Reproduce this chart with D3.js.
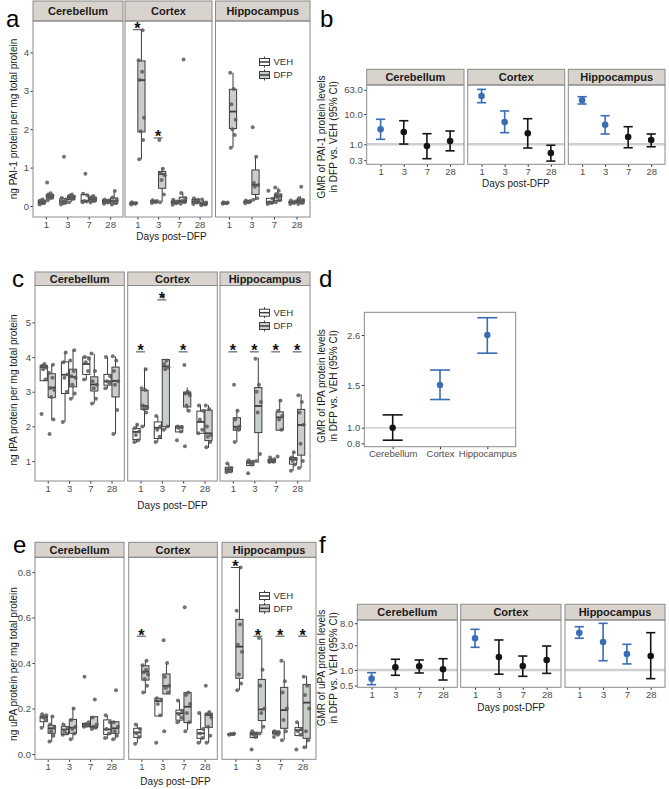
<!DOCTYPE html>
<html>
<head>
<meta charset="utf-8">
<script src="https://cdn.jsdelivr.net/npm/d3@7"></script>
<style>
  body { margin: 0; background: #fff; }
  svg text { font-family: "Liberation Sans", Arial, sans-serif; }
</style>
</head>
<body>
<svg id="fig" width="669" height="789"></svg>
<script>
const regions = ["Cerebellum", "Cortex", "Hippocampus"];
const days = ["1", "3", "7", "28"];
const groups = ["VEH", "DFP"];

// boxes: region, day, group, [whisker lo, q1, median, q3, whisker hi], animals
const paiBoxes = [
  ["Cerebellum", "1", "VEH", [0.03, 0.06, 0.10, 0.15, 0.18], [0.04, 0.07, 0.09, 0.11, 0.14, 0.17]],
  ["Cerebellum", "1", "DFP", [0.15, 0.20, 0.25, 0.30, 0.34], [0.15, 0.21, 0.24, 0.27, 0.30, 0.33, 0.61]],
  ["Cerebellum", "3", "VEH", [0.03, 0.07, 0.12, 0.19, 0.22], [0.04, 0.08, 0.12, 0.17, 0.21, 1.28]],
  ["Cerebellum", "3", "DFP", [0.10, 0.17, 0.22, 0.27, 0.30], [0.10, 0.18, 0.21, 0.24, 0.27, 0.30]],
  ["Cerebellum", "7", "VEH", [0.10, 0.12, 0.13, 0.30, 0.32], [0.10, 0.12, 0.13, 0.28, 0.32, 0.84]],
  ["Cerebellum", "7", "DFP", [0.09, 0.12, 0.18, 0.23, 0.27], [0.09, 0.13, 0.17, 0.19, 0.23, 0.26]],
  ["Cerebellum", "28", "VEH", [0.06, 0.08, 0.13, 0.16, 0.18], [0.06, 0.09, 0.12, 0.14, 0.17]],
  ["Cerebellum", "28", "DFP", [0.04, 0.06, 0.13, 0.21, 0.39], [0.04, 0.07, 0.12, 0.15, 0.22, 0.39]],
  ["Cortex", "1", "VEH", [0.04, 0.06, 0.07, 0.09, 0.10], [0.04, 0.06, 0.07, 0.08, 0.10]],
  ["Cortex", "1", "DFP", [1.22, 1.93, 3.28, 3.78, 4.58], [1.22, 1.72, 1.95, 2.30, 3.28, 3.50, 3.80, 4.58]],
  ["Cortex", "3", "VEH", [0.08, 0.10, 0.12, 0.13, 0.15], [0.08, 0.10, 0.12, 0.13, 0.15]],
  ["Cortex", "3", "DFP", [0.10, 0.46, 0.83, 0.90, 0.99], [0.10, 0.30, 0.68, 0.80, 0.85, 0.97, 1.72]],
  ["Cortex", "7", "VEH", [0.03, 0.07, 0.10, 0.13, 0.17], [0.03, 0.07, 0.10, 0.12, 0.16]],
  ["Cortex", "7", "DFP", [0.06, 0.10, 0.13, 0.23, 0.35], [0.06, 0.10, 0.13, 0.20, 0.34, 3.82]],
  ["Cortex", "28", "VEH", [0.05, 0.08, 0.12, 0.17, 0.21], [0.05, 0.09, 0.12, 0.16, 0.20]],
  ["Cortex", "28", "DFP", [0.02, 0.03, 0.06, 0.10, 0.17], [0.02, 0.04, 0.06, 0.09, 0.17]],
  ["Hippocampus", "1", "VEH", [0.06, 0.07, 0.08, 0.09, 0.10], [0.06, 0.07, 0.08, 0.09, 0.10]],
  ["Hippocampus", "1", "DFP", [1.52, 2.02, 2.46, 3.04, 3.47], [1.52, 1.85, 2.00, 2.25, 2.65, 3.05, 3.47]],
  ["Hippocampus", "3", "VEH", [0.07, 0.09, 0.11, 0.13, 0.14], [0.07, 0.10, 0.11, 0.13, 0.14]],
  ["Hippocampus", "3", "DFP", [0.16, 0.30, 0.55, 0.94, 1.28], [0.16, 0.20, 0.50, 0.55, 0.60, 1.28, 2.05]],
  ["Hippocampus", "7", "VEH", [0.05, 0.07, 0.10, 0.20, 0.21], [0.05, 0.08, 0.10, 0.19, 0.40]],
  ["Hippocampus", "7", "DFP", [0.10, 0.14, 0.25, 0.31, 0.48], [0.10, 0.15, 0.22, 0.27, 0.31, 0.40, 0.48]],
  ["Hippocampus", "28", "VEH", [0.05, 0.08, 0.10, 0.12, 0.14], [0.05, 0.08, 0.10, 0.12, 0.14]],
  ["Hippocampus", "28", "DFP", [0.05, 0.07, 0.13, 0.18, 0.25], [0.05, 0.08, 0.12, 0.15, 0.20, 0.50]]
];
const paiStars = [["Cortex", "1", 4.71], ["Cortex", "3", 1.89]];
const paiTicks = [0, 1, 2, 3, 4];

const tpaBoxes = [
  ["Cerebellum", "1", "VEH", [3.30, 3.32, 3.71, 3.76, 3.81], [2.36, 3.35, 3.65, 3.70, 3.75, 3.80]],
  ["Cerebellum", "1", "DFP", [2.18, 2.83, 3.12, 3.52, 3.78], [1.78, 2.20, 2.85, 3.05, 3.10, 3.40, 3.55, 3.78]],
  ["Cerebellum", "3", "VEH", [2.13, 2.95, 3.49, 3.86, 4.13], [2.13, 3.00, 3.40, 3.50, 3.85, 4.13]],
  ["Cerebellum", "3", "DFP", [2.80, 3.14, 3.43, 3.65, 4.21], [2.80, 2.95, 3.20, 3.40, 3.45, 3.60, 3.90, 4.20]],
  ["Cerebellum", "7", "VEH", [3.33, 3.50, 3.80, 4.00, 4.00], [3.35, 3.60, 3.85, 3.95, 4.00]],
  ["Cerebellum", "7", "DFP", [2.66, 3.02, 3.21, 3.43, 4.10], [2.66, 2.80, 3.10, 3.20, 3.30, 3.60, 4.10]],
  ["Cerebellum", "28", "VEH", [3.09, 3.19, 3.30, 3.50, 4.00], [3.10, 3.25, 3.30, 3.45, 4.00]],
  ["Cerebellum", "28", "DFP", [1.78, 2.85, 3.31, 3.71, 4.02], [1.78, 2.47, 3.20, 3.30, 3.60, 3.90, 4.02]],
  ["Cortex", "1", "VEH", [1.53, 1.62, 1.84, 1.94, 2.08], [1.55, 1.60, 1.75, 1.85, 1.95, 2.05]],
  ["Cortex", "1", "DFP", [1.99, 2.49, 2.59, 3.04, 3.69], [2.00, 2.40, 2.50, 2.55, 2.60, 3.05, 3.10, 3.65]],
  ["Cortex", "3", "VEH", [1.54, 1.65, 1.96, 2.13, 2.30], [1.55, 1.70, 1.90, 2.00, 2.30]],
  ["Cortex", "3", "DFP", [1.89, 1.99, 3.73, 3.93, 3.93], [1.90, 2.00, 3.65, 3.70, 3.80, 3.90, 5.75]],
  ["Cortex", "7", "VEH", [1.84, 1.84, 1.97, 2.01, 2.01], [1.60, 1.85, 1.95, 1.98, 2.00]],
  ["Cortex", "7", "DFP", [2.42, 2.56, 2.95, 2.99, 3.12], [1.43, 2.45, 2.60, 2.90, 2.95, 3.00, 3.77]],
  ["Cortex", "28", "VEH", [1.80, 1.80, 2.13, 2.44, 2.63], [1.80, 1.90, 2.20, 2.45, 2.60]],
  ["Cortex", "28", "DFP", [1.38, 1.59, 1.80, 2.47, 2.61], [1.40, 1.55, 1.70, 1.75, 2.00, 2.50, 2.60]],
  ["Hippocampus", "1", "VEH", [0.66, 0.69, 0.76, 0.82, 0.93], [0.68, 0.70, 0.75, 0.80, 0.93]],
  ["Hippocampus", "1", "DFP", [1.54, 1.89, 1.99, 2.25, 2.49], [1.55, 1.90, 1.95, 2.00, 2.20, 2.45, 3.20]],
  ["Hippocampus", "3", "VEH", [0.87, 0.87, 0.95, 1.00, 1.03], [0.65, 0.90, 0.95, 0.98, 1.02]],
  ["Hippocampus", "3", "DFP", [0.95, 1.82, 2.59, 3.12, 3.98], [1.00, 1.20, 2.40, 2.70, 3.00, 3.20, 3.95]],
  ["Hippocampus", "7", "VEH", [0.96, 0.96, 1.00, 1.05, 1.10], [0.97, 0.98, 1.00, 1.05, 1.10]],
  ["Hippocampus", "7", "DFP", [1.89, 1.89, 2.26, 2.42, 2.76], [1.13, 1.90, 2.20, 2.30, 2.45, 2.75]],
  ["Hippocampus", "28", "VEH", [0.72, 0.91, 1.05, 1.10, 1.27], [0.72, 0.90, 1.00, 1.05, 1.10, 1.25]],
  ["Hippocampus", "28", "DFP", [0.79, 1.17, 2.04, 2.49, 2.93], [0.80, 1.00, 1.50, 2.05, 2.40, 2.70, 2.90]]
];
const tpaStars = [["Cortex", "1", 4.28], ["Cortex", "3", 5.78], ["Cortex", "7", 4.28],
  ["Hippocampus", "1", 4.28], ["Hippocampus", "3", 4.28], ["Hippocampus", "7", 4.28], ["Hippocampus", "28", 4.28]];
const tpaTicks = [1, 2, 3, 4, 5];

const upaBoxes = [
  ["Cerebellum", "1", "VEH", [0.116, 0.142, 0.161, 0.167, 0.174], [0.115, 0.150, 0.160, 0.170, 0.175]],
  ["Cerebellum", "1", "DFP", [0.054, 0.091, 0.113, 0.126, 0.164], [0.055, 0.080, 0.100, 0.115, 0.130, 0.165]],
  ["Cerebellum", "3", "VEH", [0.083, 0.086, 0.108, 0.120, 0.130], [0.085, 0.090, 0.100, 0.115, 0.130]],
  ["Cerebellum", "3", "DFP", [0.064, 0.091, 0.116, 0.152, 0.205], [0.065, 0.090, 0.110, 0.120, 0.150, 0.200]],
  ["Cerebellum", "7", "VEH", [0.116, 0.120, 0.130, 0.135, 0.140], [0.120, 0.125, 0.130, 0.140, 0.340]],
  ["Cerebellum", "7", "DFP", [0.110, 0.116, 0.120, 0.164, 0.164], [0.110, 0.115, 0.120, 0.130, 0.160, 0.240]],
  ["Cerebellum", "28", "VEH", [0.066, 0.086, 0.108, 0.150, 0.171], [0.070, 0.090, 0.110, 0.140, 0.170]],
  ["Cerebellum", "28", "DFP", [0.064, 0.091, 0.113, 0.142, 0.144], [0.065, 0.080, 0.100, 0.120, 0.140, 0.280]],
  ["Cortex", "1", "VEH", [0.047, 0.073, 0.095, 0.113, 0.130], [0.045, 0.075, 0.090, 0.110, 0.130]],
  ["Cortex", "1", "DFP", [0.267, 0.325, 0.362, 0.388, 0.409], [0.270, 0.300, 0.330, 0.350, 0.360, 0.370, 0.390, 0.410]],
  ["Cortex", "3", "VEH", [0.167, 0.167, 0.233, 0.245, 0.245], [0.050, 0.170, 0.220, 0.235, 0.245]],
  ["Cortex", "3", "DFP", [0.264, 0.264, 0.299, 0.352, 0.399], [0.100, 0.270, 0.290, 0.300, 0.340, 0.400, 0.500]],
  ["Cortex", "7", "VEH", [0.138, 0.149, 0.179, 0.193, 0.237], [0.140, 0.160, 0.175, 0.190, 0.235]],
  ["Cortex", "7", "DFP", [0.105, 0.138, 0.208, 0.270, 0.271], [0.100, 0.140, 0.180, 0.220, 0.260, 0.270, 0.645]],
  ["Cortex", "28", "VEH", [0.047, 0.069, 0.091, 0.108, 0.186], [0.050, 0.070, 0.090, 0.110, 0.180]],
  ["Cortex", "28", "DFP", [0.047, 0.117, 0.171, 0.179, 0.186], [0.050, 0.080, 0.120, 0.160, 0.175, 0.185, 0.300]],
  ["Hippocampus", "1", "VEH", [0.085, 0.086, 0.087, 0.089, 0.090], [0.085, 0.087, 0.088, 0.090]],
  ["Hippocampus", "1", "DFP", [0.281, 0.333, 0.472, 0.592, 0.826], [0.280, 0.310, 0.350, 0.450, 0.480, 0.570, 0.630, 0.820]],
  ["Hippocampus", "3", "VEH", [0.072, 0.072, 0.088, 0.095, 0.100], [0.020, 0.075, 0.085, 0.090, 0.100]],
  ["Hippocampus", "3", "DFP", [0.091, 0.147, 0.196, 0.328, 0.511], [0.090, 0.120, 0.180, 0.200, 0.300, 0.370, 0.510]],
  ["Hippocampus", "7", "VEH", [0.085, 0.088, 0.095, 0.101, 0.101], [0.075, 0.085, 0.090, 0.095, 0.100]],
  ["Hippocampus", "7", "DFP", [0.062, 0.113, 0.193, 0.293, 0.410], [0.060, 0.100, 0.150, 0.200, 0.270, 0.320, 0.410]],
  ["Hippocampus", "28", "VEH", [0.081, 0.081, 0.105, 0.116, 0.142], [0.020, 0.085, 0.100, 0.110, 0.140]],
  ["Hippocampus", "28", "DFP", [0.025, 0.069, 0.226, 0.306, 0.344], [0.030, 0.060, 0.100, 0.200, 0.260, 0.300, 0.340]]
];
const upaStars = [["Cortex", "1", 0.538], ["Hippocampus", "1", 0.84],
  ["Hippocampus", "3", 0.538], ["Hippocampus", "7", 0.538], ["Hippocampus", "28", 0.538]];
const upaTicks = [0, 0.2, 0.4, 0.6, 0.8];

// GMR: region, day, estimate, lower CI, upper CI, significant
const paiGmr = [
  ["Cerebellum", "1", 3.13, 1.46, 6.7, true],
  ["Cerebellum", "3", 2.55, 1.02, 6.0, false],
  ["Cerebellum", "7", 0.88, 0.335, 2.24, false],
  ["Cerebellum", "28", 1.29, 0.61, 2.75, false],
  ["Cortex", "1", 39.3, 23.6, 65, true],
  ["Cortex", "3", 5.44, 2.42, 12.6, true],
  ["Cortex", "7", 2.31, 0.755, 7.0, false],
  ["Cortex", "28", 0.516, 0.28, 0.93, false],
  ["Hippocampus", "1", 28.3, 21.4, 37.2, true],
  ["Hippocampus", "3", 4.43, 2.19, 8.8, true],
  ["Hippocampus", "7", 1.74, 0.77, 3.81, false],
  ["Hippocampus", "28", 1.39, 0.83, 2.19, false]
];
const paiGmrTicks = [0.3, 1, 10, 63];

// tPA GMR pooled over days: region, estimate, lower, upper, significant
const tpaGmr = [
  ["Cerebellum", 1.0, 0.84, 1.15, false],
  ["Cortex", 1.5, 1.33, 1.83, true],
  ["Hippocampus", 2.6, 2.2, 2.98, true]
];
const tpaGmrTicks = [0.8, 1.0, 1.5, 2.6];

const upaGmr = [
  ["Cerebellum", "1", 0.68, 0.52, 0.887, true],
  ["Cerebellum", "3", 1.13, 0.79, 1.61, false],
  ["Cerebellum", "7", 1.18, 0.875, 1.56, false],
  ["Cerebellum", "28", 1.03, 0.64, 1.65, false],
  ["Cortex", "1", 4.1, 2.74, 6.1, true],
  ["Cortex", "3", 1.78, 0.83, 3.8, false],
  ["Cortex", "7", 1.19, 0.755, 1.86, false],
  ["Cortex", "28", 1.56, 0.86, 2.9, false],
  ["Hippocampus", "1", 5.25, 4.1, 6.85, true],
  ["Hippocampus", "3", 3.47, 1.51, 7.96, true],
  ["Hippocampus", "7", 2.04, 1.31, 3.13, true],
  ["Hippocampus", "28", 1.86, 0.68, 5.25, false]
];
const upaGmrTicks = [0.5, 1, 3, 8];

const svg = d3.select("#fig");
const boxFill = { VEH: "#ffffff", DFP: "#c8cfc8" };
const jitter = [-2.2, 1.7, -0.6, 2.6, -1.6, 0.7, -2.8, 1.2];
const BLUE = "#3a6db5";
const INK = "#141414";
const FONT = "Liberation Sans, Arial, sans-serif";

function strip(x0, x1, top, bottom, label) {
  svg.append("rect")
    .attr("x", x0).attr("y", top)
    .attr("width", x1 - x0).attr("height", bottom - top)
    .attr("fill", "#d9d3ce").attr("stroke", "#8a8a8a");
  svg.append("text")
    .attr("x", (x0 + x1) / 2).attr("y", (top + bottom) / 2)
    .attr("dy", "0.36em").attr("text-anchor", "middle")
    .attr("font-size", 11).attr("font-weight", "bold").attr("fill", "#1a1a1a")
    .text(label);
}

function styleAxis(ax, size) {
  ax.attr("font-family", FONT).attr("font-size", size || 9.5);
  ax.select(".domain").remove();
  ax.selectAll("line").attr("stroke", "#333");
  ax.selectAll("text").attr("fill", "#4d4d4d");
}

function border(x0, x1, top, bottom) {
  svg.append("rect")
    .attr("x", x0).attr("y", top)
    .attr("width", x1 - x0).attr("height", bottom - top)
    .attr("fill", "none").attr("stroke", "#8a8a8a");
}

function letter(x, y, t) {
  svg.append("text").attr("x", x).attr("y", y)
    .attr("font-size", 24).attr("fill", "#000").text(t);
}

function yTitle(x, y, lines) {
  const t = svg.append("text")
    .attr("transform", `translate(${x},${y}) rotate(-90)`)
    .attr("text-anchor", "middle").attr("font-size", 10).attr("fill", "#1a1a1a");
  lines.forEach((s, i) => t.append("tspan").attr("x", 0).attr("dy", i ? 12 : 0).text(s));
}

function legendKey(x, yc, group) {
  const g = svg.append("g").attr("stroke", "#3d3d3d");
  g.append("line").attr("x1", x + 5).attr("x2", x + 5).attr("y1", yc - 5.5).attr("y2", yc + 5.5);
  g.append("rect").attr("x", x).attr("y", yc - 3.5).attr("width", 10).attr("height", 7)
    .attr("fill", boxFill[group]);
  g.append("line").attr("x1", x).attr("x2", x + 10).attr("y1", yc).attr("y2", yc).attr("stroke-width", 1.5);
  svg.append("text").attr("x", x + 14).attr("y", yc).attr("dy", "0.35em")
    .attr("font-family", "Open Sans, sans-serif").attr("font-size", 9.5).attr("fill", "#333")
    .text(group);
}

function drawBoxFigure(cfg) {
  const y = d3.scaleLinear().domain(cfg.yDomain).range([cfg.panelBottom, cfg.panelTop]);

  regions.forEach((region, i) => {
    const [x0, x1] = cfg.panels[i];
    const x = d3.scalePoint().domain(days).range([x0, x1]).padding(0.6);
    strip(x0, x1, cfg.stripTop, cfg.panelTop, region);
    const g = svg.append("g");

    cfg.rows.filter(r => r[0] === region).forEach(([, day, group, stats, pts]) => {
      const cx = x(day) + (group === "VEH" ? -4 : 4);
      const [lo, q1, md, q3, hi] = stats;
      const b = g.append("g").attr("stroke", "#3d3d3d");
      b.append("line").attr("x1", cx).attr("x2", cx).attr("y1", y(hi)).attr("y2", y(q3));
      b.append("line").attr("x1", cx).attr("x2", cx).attr("y1", y(q1)).attr("y2", y(lo));
      b.append("rect").attr("x", cx - 3.6).attr("width", 7.2)
        .attr("y", y(q3)).attr("height", Math.max(y(q1) - y(q3), 0.8))
        .attr("fill", boxFill[group]);
      b.append("line").attr("x1", cx - 3.6).attr("x2", cx + 3.6)
        .attr("y1", y(md)).attr("y2", y(md)).attr("stroke-width", 1.8);
      g.selectAll(null).data(pts).join("circle")
        .attr("cx", (v, k) => cx + jitter[k % jitter.length])
        .attr("cy", v => y(v))
        .attr("r", 2).attr("fill", "#5a5a5a").attr("fill-opacity", 0.85);
    });

    cfg.stars.filter(s => s[0] === region).forEach(([, day, v]) => {
      const sx = x(day), sy = y(v);
      g.append("line").attr("x1", sx - 4.5).attr("x2", sx + 4.5)
        .attr("y1", sy + 4.5).attr("y2", sy + 4.5).attr("stroke", "#444");
      g.append("text").attr("x", sx).attr("y", sy + 9).attr("text-anchor", "middle")
        .attr("font-size", 16).attr("font-weight", "bold").attr("fill", "#111").text("*");
    });

    const ax = svg.append("g").attr("transform", `translate(0,${cfg.panelBottom})`)
      .call(d3.axisBottom(x).tickSize(2.5).tickPadding(1.5));
    styleAxis(ax);
    if (i === 0) {
      const ay = svg.append("g").attr("transform", `translate(${x0},0)`)
        .call(d3.axisLeft(y).tickValues(cfg.ticks).tickFormat(cfg.fmt).tickSize(2.5).tickPadding(1.5));
      styleAxis(ay);
    }
    border(x0, x1, cfg.panelTop, cfg.panelBottom);
  });

  const mid = (cfg.panels[0][0] + cfg.panels[2][1]) / 2;
  svg.append("text").attr("x", mid).attr("y", cfg.xTitleY).attr("text-anchor", "middle")
    .attr("font-size", 10).attr("fill", "#1a1a1a").text("Days post\u2212DFP");
  yTitle(16.5, cfg.yTitleY, [cfg.yTitle]);
  groups.forEach((gr, k) => legendKey(cfg.legend[0], cfg.legend[1] + k * cfg.legend[2], gr));
}

function errorBar(g, cx, y, est, lo, hi, sig, cap, r) {
  const col = sig ? BLUE : INK;
  const e = g.append("g").attr("stroke", col).attr("stroke-width", 1.6);
  e.append("line").attr("x1", cx).attr("x2", cx).attr("y1", y(lo)).attr("y2", y(hi));
  e.append("line").attr("x1", cx - cap).attr("x2", cx + cap).attr("y1", y(lo)).attr("y2", y(lo));
  e.append("line").attr("x1", cx - cap).attr("x2", cx + cap).attr("y1", y(hi)).attr("y2", y(hi));
  g.append("circle").attr("cx", cx).attr("cy", y(est)).attr("r", r).attr("fill", col);
}

function drawGmrFigure(cfg) {
  const y = d3.scaleLog().domain(cfg.yDomain).range([cfg.panelBottom, cfg.panelTop]);

  regions.forEach((region, i) => {
    const [x0, x1] = cfg.panels[i];
    const x = d3.scalePoint().domain(days).range([x0, x1]).padding(0.6);
    strip(x0, x1, cfg.stripTop, cfg.panelTop, region);
    const g = svg.append("g");
    g.append("line").attr("x1", x0).attr("x2", x1).attr("y1", y(1)).attr("y2", y(1))
      .attr("stroke", "#cfcfcf").attr("stroke-width", 2.5);
    cfg.rows.filter(r => r[0] === region).forEach(([, day, est, lo, hi, sig]) => {
      errorBar(g, x(day), y, est, lo, hi, sig, 4.6, 3.3);
    });
    const ax = svg.append("g").attr("transform", `translate(0,${cfg.panelBottom})`)
      .call(d3.axisBottom(x).tickSize(2.5).tickPadding(1));
    styleAxis(ax, 9.5);
    if (i === 0) {
      const ay = svg.append("g").attr("transform", `translate(${x0},0)`)
        .call(d3.axisLeft(y).tickValues(cfg.ticks).tickFormat(d3.format(".1f")).tickSize(2.5).tickPadding(1.5));
      styleAxis(ay);
    }
    border(x0, x1, cfg.panelTop, cfg.panelBottom);
  });

  const mid = (cfg.panels[0][0] + cfg.panels[2][1]) / 2;
  svg.append("text").attr("x", mid).attr("y", cfg.xTitleY).attr("text-anchor", "middle")
    .attr("font-size", 10).attr("fill", "#1a1a1a").text("Days post-DFP");
  yTitle(325, cfg.yTitleY, [cfg.yTitle, "in DFP vs. VEH (95% CI)"]);
}

// a
drawBoxFigure({
  rows: paiBoxes, stars: paiStars, ticks: paiTicks, fmt: d3.format("d"),
  panels: [[33, 123], [125, 212], [215.5, 310]],
  stripTop: 1, panelTop: 21, panelBottom: 217, yDomain: [-0.287, 4.82],
  xTitleY: 239.5, yTitle: "ng PAI-1 protein per mg total protein", yTitleY: 119,
  legend: [259.5, 62, 13]
});
letter(6, 27, "a");

// b
drawGmrFigure({
  rows: paiGmr, ticks: paiGmrTicks,
  panels: [[366.7, 464], [467.7, 564.7], [568.3, 665]],
  stripTop: 69.3, panelTop: 85, panelBottom: 164.3, yDomain: [0.219, 90.6],
  xTitleY: 186.5, yTitle: "GMR of PAI-1 protein levels", yTitleY: 137
});
letter(320, 27, "b");

// c
drawBoxFigure({
  rows: tpaBoxes, stars: tpaStars, ticks: tpaTicks, fmt: d3.format("d"),
  panels: [[35, 124.3], [127.7, 217.3], [220, 310]],
  stripTop: 272, panelTop: 285.5, panelBottom: 481, yDomain: [0.424, 6.065],
  xTitleY: 508.5, yTitle: "ng tPA protein per mg total protein", yTitleY: 390,
  legend: [259.5, 312.7, 13.3]
});
letter(12, 287, "c");

// d
(function () {
  const x0 = 364.3, x1 = 515.7, top = 312.3, bottom = 446.7;
  const x = d3.scalePoint().domain(regions).range([x0, x1]).padding(0.6);
  const y = d3.scaleLinear().domain(tpaGmrTicks).range([443.3, 427.7, 385, 335]);
  const g = svg.append("g");
  g.append("line").attr("x1", x0).attr("x2", x1).attr("y1", y(1)).attr("y2", y(1))
    .attr("stroke", "#cfcfcf").attr("stroke-width", 1.5);
  tpaGmr.forEach(([region, est, lo, hi, sig]) => errorBar(g, x(region), y, est, lo, hi, sig, 10, 3.2));
  const ax = svg.append("g").attr("transform", `translate(0,${bottom})`)
    .call(d3.axisBottom(x).tickSize(2.5).tickPadding(1));
  styleAxis(ax);
  const ay = svg.append("g").attr("transform", `translate(${x0},0)`)
    .call(d3.axisLeft(y).tickValues(tpaGmrTicks).tickFormat(d3.format(".1f")).tickSize(2.5).tickPadding(1.5));
  styleAxis(ay);
  border(x0, x1, top, bottom);
  yTitle(325, 386, ["GMR of tPA protein levels", "in DFP vs. VEH (95% CI)"]);
})();
letter(319, 287, "d");

// e
drawBoxFigure({
  rows: upaBoxes, stars: upaStars, ticks: upaTicks, fmt: d3.format(".1f"),
  panels: [[35, 124], [128.7, 217.3], [222, 316]],
  stripTop: 542.3, panelTop: 557.3, panelBottom: 759.3, yDomain: [-0.0233, 0.865],
  xTitleY: 784.5, yTitle: "ng uPA protein per mg total protein", yTitleY: 664,
  legend: [259.5, 596, 12.3]
});
letter(13, 553, "e");

// f
drawGmrFigure({
  rows: upaGmr, ticks: upaGmrTicks,
  panels: [[357.3, 457.3], [460.7, 561], [565, 665]],
  stripTop: 604.3, panelTop: 620, panelBottom: 687.3, yDomain: [0.463, 9.23],
  xTitleY: 711, yTitle: "GMR of uPA protein levels", yTitleY: 668
});
letter(319, 553, "f");
</script>
</body>
</html>
